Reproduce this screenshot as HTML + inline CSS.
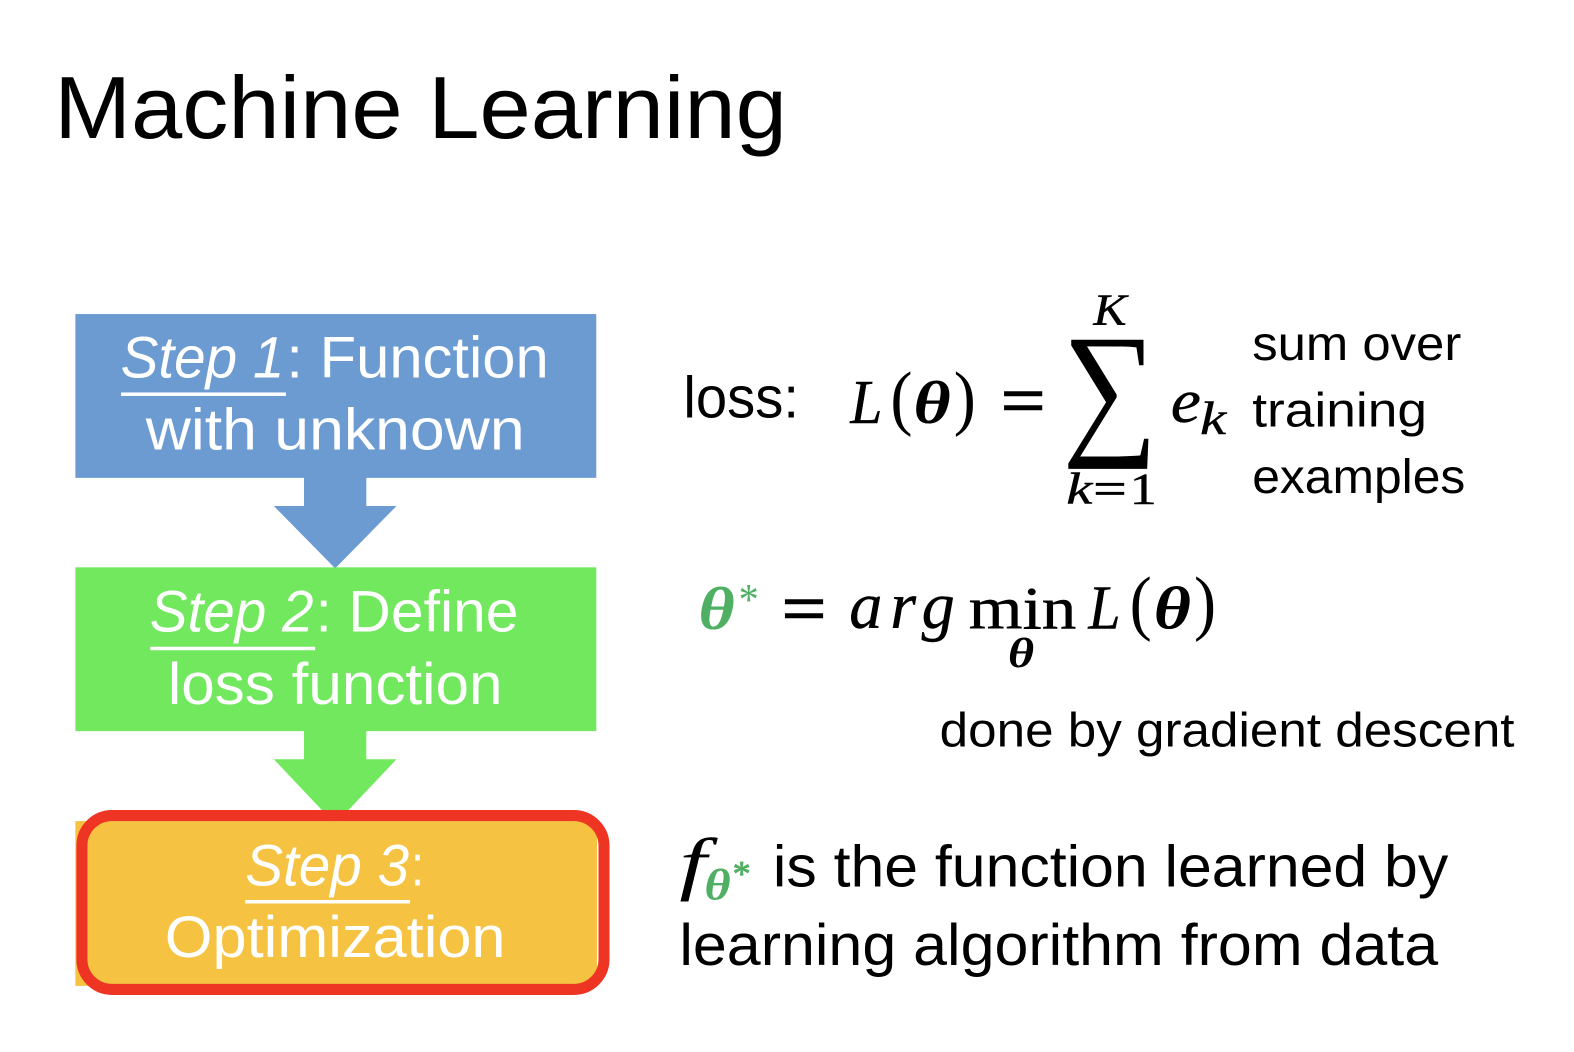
<!DOCTYPE html>
<html><head><meta charset="utf-8"><title>Machine Learning</title>
<style>
html,body{margin:0;padding:0;background:#fff;width:1574px;height:1052px;overflow:hidden}
svg{display:block}
text{font-family:"Liberation Sans",sans-serif;white-space:pre}
.w{fill:#fff;font-size:58px}
.b{fill:#000}
.m{font-family:"Liberation Serif",serif;font-style:italic;stroke:#000;stroke-width:.4px}
.r{font-family:"Liberation Serif",serif}
.t{font-family:"Liberation Serif",serif;font-style:italic;font-weight:bold}
.g{fill:#4FAF62}
</style></head><body>
<svg width="1574" height="1052" viewBox="0 0 1574 1052" xmlns="http://www.w3.org/2000/svg">
<g transform="scale(1.005)">
<text class="b" x="54" y="137.5" font-size="88" textLength="729" lengthAdjust="spacingAndGlyphs">Machine Learning</text>

<rect x="75" y="312.5" width="518.3" height="163" fill="#6C9BD2"/>
<polygon points="302.5,475 364.5,475 364.5,503.5 394.5,503.5 333.5,565.5 272.5,503.5 302.5,503.5" fill="#6C9BD2"/>
<rect x="75" y="564.5" width="518.3" height="163" fill="#72E85F"/>
<polygon points="302.5,727 364.5,727 364.5,755.5 394.5,755.5 333.5,820 272.5,755.5 302.5,755.5" fill="#72E85F"/>
<rect x="75" y="817" width="519" height="164" fill="#F5C242"/>
<rect x="81.5" y="811.5" width="519.5" height="173" rx="30" ry="30" fill="none" stroke="#EE3524" stroke-width="11"/>

<text class="w" x="120" y="375.5" font-style="italic" textLength="163" lengthAdjust="spacingAndGlyphs">Step 1</text>
<rect x="120.5" y="390.5" width="164" height="3.5" fill="#fff"/>
<text class="w" x="285" y="375.5" textLength="261" lengthAdjust="spacingAndGlyphs">: Function</text>
<text class="w" x="145" y="447.5" textLength="377" lengthAdjust="spacingAndGlyphs">with unknown</text>

<text class="w" x="149" y="628.5" font-style="italic" textLength="163" lengthAdjust="spacingAndGlyphs">Step 2</text>
<rect x="149.5" y="643.5" width="164" height="3.5" fill="#fff"/>
<text class="w" x="314" y="628.5" textLength="202" lengthAdjust="spacingAndGlyphs">: Define</text>
<text class="w" x="167" y="700.5" textLength="333" lengthAdjust="spacingAndGlyphs">loss function</text>

<text class="w" x="244" y="881" font-style="italic" textLength="163" lengthAdjust="spacingAndGlyphs">Step 3</text>
<rect x="244" y="895.5" width="164" height="3.5" fill="#fff"/>
<text class="w" x="409" y="881" textLength="13" lengthAdjust="spacingAndGlyphs">:</text>
<text class="w" x="164" y="952" textLength="339" lengthAdjust="spacingAndGlyphs">Optimization</text>

<text class="b" x="680" y="415.5" font-size="58" textLength="115" lengthAdjust="spacingAndGlyphs">loss:</text>
<text class="b m" x="846" y="421" font-size="62" textLength="32" lengthAdjust="spacingAndGlyphs">L</text>
<text class="b r" x="886" y="419.5" font-size="72" textLength="22" lengthAdjust="spacingAndGlyphs">(</text>
<text class="b t" x="909" y="421" font-size="60" textLength="37" lengthAdjust="spacingAndGlyphs">θ</text>
<text class="b r" x="949" y="419.5" font-size="72" textLength="22" lengthAdjust="spacingAndGlyphs">)</text>
<text class="b r" x="996" y="422" font-size="70" textLength="44" lengthAdjust="spacingAndGlyphs" stroke="#000" stroke-width="1.5">=</text>
<text class="b r" x="1057" y="435" font-size="148" textLength="95" lengthAdjust="spacingAndGlyphs">∑</text>
<text class="b m" x="1088" y="323" font-size="44" textLength="33" lengthAdjust="spacingAndGlyphs">K</text>
<text class="b m" x="1061" y="501" font-size="44" textLength="26" lengthAdjust="spacingAndGlyphs">k</text>
<text class="b r" x="1088" y="501" font-size="44" textLength="33" lengthAdjust="spacingAndGlyphs" stroke="#000" stroke-width=".8">=</text>
<text class="b r" x="1124" y="501" font-size="44" textLength="27" lengthAdjust="spacingAndGlyphs" stroke="#000" stroke-width=".5">1</text>
<text class="b m" x="1165" y="420" font-size="62" textLength="30" lengthAdjust="spacingAndGlyphs">e</text>
<text class="b m" x="1194" y="432" font-size="46" textLength="26" lengthAdjust="spacingAndGlyphs">k</text>

<text class="b" x="1246" y="358" font-size="48" textLength="208" lengthAdjust="spacingAndGlyphs">sum over</text>
<text class="b" x="1246" y="424.5" font-size="48" textLength="174" lengthAdjust="spacingAndGlyphs">training</text>
<text class="b" x="1246" y="490.5" font-size="48" textLength="212" lengthAdjust="spacingAndGlyphs">examples</text>

<text class="g t" x="695" y="626" font-size="60" textLength="36" lengthAdjust="spacingAndGlyphs">θ</text>
<text class="g r" x="735" y="611" font-size="44" textLength="20" lengthAdjust="spacingAndGlyphs">*</text>
<text class="b r" x="778" y="629" font-size="70" textLength="44" lengthAdjust="spacingAndGlyphs" stroke="#000" stroke-width="1.5">=</text>
<text class="b m" x="845" y="625" font-size="66" textLength="105">arg</text>
<text class="b r" x="964" y="625.5" font-size="60" textLength="107" lengthAdjust="spacingAndGlyphs" stroke="#000" stroke-width=".5">min</text>
<text class="b t" x="1003" y="663.5" font-size="42" textLength="26" lengthAdjust="spacingAndGlyphs">θ</text>
<text class="b m" x="1083" y="625.5" font-size="62" textLength="32" lengthAdjust="spacingAndGlyphs">L</text>
<text class="b r" x="1124" y="623.5" font-size="72" textLength="22" lengthAdjust="spacingAndGlyphs">(</text>
<text class="b t" x="1148" y="625.5" font-size="60" textLength="37" lengthAdjust="spacingAndGlyphs">θ</text>
<text class="b r" x="1188" y="623.5" font-size="72" textLength="22" lengthAdjust="spacingAndGlyphs">)</text>

<text class="b" x="935" y="743" font-size="48" textLength="572" lengthAdjust="spacingAndGlyphs">done by gradient descent</text>

<text class="b r" x="676" y="882" font-size="70" font-style="italic" textLength="27" lengthAdjust="spacingAndGlyphs">f</text>
<text class="g t" x="701" y="895" font-size="44" textLength="26" lengthAdjust="spacingAndGlyphs">θ</text>
<text class="g r" x="729" y="881" font-size="36" textLength="18" lengthAdjust="spacingAndGlyphs" stroke="#4FAF62" stroke-width=".8">*</text>
<text class="b" x="769" y="882" font-size="58" textLength="672" lengthAdjust="spacingAndGlyphs">is the function learned by</text>
<text class="b" x="676" y="960" font-size="58" textLength="755" lengthAdjust="spacingAndGlyphs">learning algorithm from data</text>
</g>
</svg>
</body></html>
